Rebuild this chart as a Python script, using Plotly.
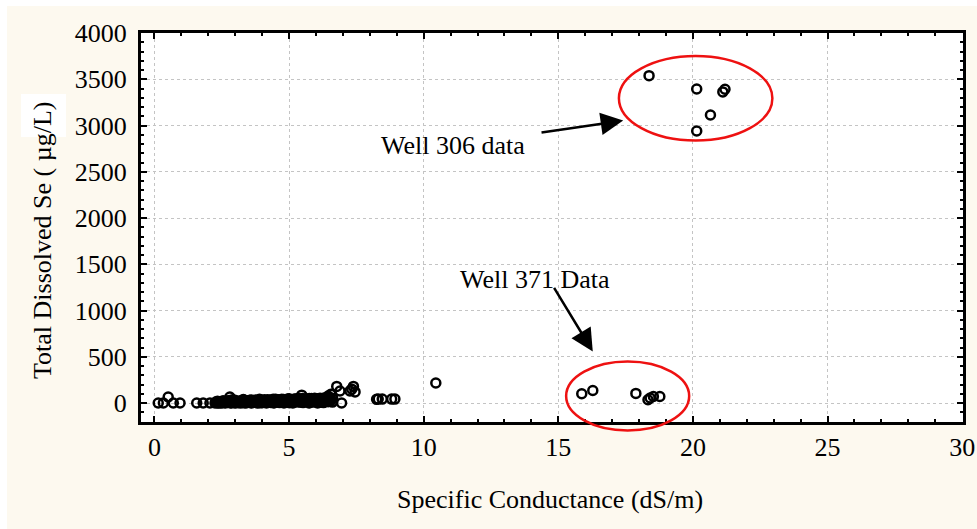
import plotly.graph_objects as go

# Specific conductance (dS/m) vs total dissolved selenium (ug/L)
sc_low = [0.14, 0.33, 0.51, 0.70, 0.95, 1.57, 1.81, 2.06]
se_low = [0, 0, 65, 0, 0, 0, 0, 0]

sc_band = [2.25, 2.31, 2.36, 2.42, 2.47, 2.52, 2.58, 2.63, 2.69, 2.74, 2.80, 2.85, 2.91, 2.96,
           3.02, 3.07, 3.12, 3.18, 3.23, 3.29, 3.34, 3.40, 3.45, 3.51, 3.56, 3.61, 3.67, 3.72,
           3.78, 3.83, 3.89, 3.94, 4.00, 4.05, 4.10, 4.16, 4.21, 4.27, 4.32, 4.38, 4.43, 4.49,
           4.54, 4.59, 4.65, 4.70, 4.76, 4.81, 4.87, 4.92, 4.98, 5.03, 5.08, 5.14, 5.19, 5.25,
           5.30, 5.36, 5.41, 5.47, 5.52, 5.57, 5.63, 5.68, 5.74, 5.79, 5.85, 5.90, 5.96, 6.01,
           6.06, 6.12, 6.17, 6.23, 6.28, 6.34, 6.39, 6.45, 6.50, 6.56, 6.61]
se_band = [0, 5, 0, 10, 0, 3, 8, 0, 12, 5, 65, 0, 10, 4,
           0, 15, 6, 0, 12, 20, 3, 0, 10, 18, 5, 0, 14, 22,
           8, 0, 16, 25, 4, 10, 20, 0, 12, 28, 6, 15, 0, 24,
           10, 30, 5, 18, 26, 0, 12, 32, 8, 20, 35, 0, 14, 28,
           38, 10, 22, 85, 5, 30, 40, 15, 0, 25, 35, 10, 42, 20,
           0, 30, 12, 38, 5, 25, 45, 15, 60, 30, 10]

sc_band2 = [2.90, 3.30, 3.60, 3.90, 4.20, 4.50, 4.80, 5.00, 5.20, 5.35, 5.60, 5.75, 5.95,
            6.10, 6.30, 6.45, 6.55, 6.62]
se_band2 = [35, 38, 32, 40, 36, 42, 38, 45, 40, 50, 44, 48, 52, 46, 55, 75, 95, 50]

sc_band3 = [2.34, 2.45, 2.55, 2.66, 2.77, 2.88, 2.99, 3.10, 3.21, 3.32, 3.43, 3.54, 3.65,
            3.76, 3.87, 3.98, 4.08, 4.19, 4.30, 4.41, 4.52, 4.62, 4.73, 4.84, 4.95, 5.06,
            5.17, 5.28, 5.39, 5.50, 5.61, 5.72, 5.83, 5.94, 6.04, 6.15, 6.26, 6.37, 6.48]
se_band3 = [20, 15, 25, 18, 28, 22, 30, 20, 26, 32, 24, 30, 20, 34, 26, 30, 36, 22, 34,
            40, 28, 36, 42, 30, 44, 34, 40, 46, 30, 48, 36, 44, 50, 32, 46, 52, 38, 50, 40]

sc_band4 = [2.28, 2.39, 2.50, 2.61, 2.71, 2.83, 2.94, 3.05, 3.15, 3.26, 3.37, 3.48, 3.59,
            3.70, 3.81, 3.92, 4.03, 4.13, 4.24, 4.35, 4.46, 4.57, 4.68, 4.79, 4.90, 5.01,
            5.11, 5.22, 5.33, 5.44, 5.55, 5.66, 5.77, 5.88, 5.99, 6.09, 6.20, 6.31, 6.42, 6.53]
se_band4 = [10, 2, 12, 6, 16, 4, 18, 8, 14, 4, 20, 10, 6, 16, 12, 2, 22, 8, 16, 10, 6,
            20, 12, 18, 24, 4, 16, 12, 22, 10, 18, 26, 6, 20, 14, 24, 8, 18, 28, 22]

sc_mid = [6.77, 6.89, 6.95, 7.26, 7.33, 7.39, 7.45, 8.25, 8.31, 8.46, 8.81, 8.93, 10.45]
se_mid = [180, 130, 0, 130, 150, 180, 120, 40, 43, 43, 43, 43, 216]

# Well 371
sc_371 = [15.87, 16.28, 17.88, 18.33, 18.41, 18.53, 18.77]
se_371 = [100, 136, 104, 36, 54, 71, 71]

# Well 306
sc_306 = [18.37, 20.14, 21.19, 21.11, 20.65, 20.14]
se_306 = [3539, 3395, 3392, 3363, 3114, 2941]

sc = sc_low + sc_band + sc_band2 + sc_band3 + sc_band4 + sc_mid + sc_371 + sc_306
se = se_low + se_band + se_band2 + se_band3 + se_band4 + se_mid + se_371 + se_306

x_range = [-0.5, 30.03]
y_range = [-205, 4000]

FONT = "Liberation Serif, Times New Roman, serif"


def px_x(v):
    return (v - x_range[0]) / (x_range[1] - x_range[0])


def px_y(v):
    return (v - y_range[0]) / (y_range[1] - y_range[0])


fig = go.Figure()
fig.add_trace(go.Scatter(
    x=sc, y=se, mode="markers",
    marker=dict(symbol="circle-open", size=9, color="black", line=dict(width=2.5, color="black")),
    showlegend=False, cliponaxis=False,
))

axis_common = dict(
    showline=True, linewidth=3, linecolor="black", mirror="ticks",
    ticks="inside", ticklen=6, tickwidth=2, tickcolor="black",
    showgrid=True, gridcolor="#c4c4c4", gridwidth=1, griddash="3px,3px",
    zeroline=False, automargin=False,
    tickfont=dict(family=FONT, size=26, color="black"),
)

fig.update_xaxes(range=x_range, tickvals=[0, 5, 10, 15, 20, 25, 30],
                 minor=dict(dtick=1, tick0=0, ticks="inside", ticklen=3, tickwidth=2,
                            tickcolor="black", showgrid=False),
                 ticklabelstandoff=0, **axis_common)
fig.update_yaxes(range=y_range, tickvals=[0, 500, 1000, 1500, 2000, 2500, 3000, 3500, 4000],
                 minor=dict(dtick=100, tick0=0, ticks="inside", ticklen=3, tickwidth=2,
                            tickcolor="black", showgrid=False),
                 ticklabelstandoff=6, **axis_common)

shapes = [
    # white strips along the top and left edges of the page
    dict(type="rect", xref="paper", yref="paper", x0=-0.1715, x1=1.02, y0=1.0694, y1=1.09,
         fillcolor="white", line=dict(width=0), layer="below"),
    dict(type="rect", xref="paper", yref="paper", x0=-0.1715, x1=-0.163, y0=-0.28, y1=1.09,
         fillcolor="white", line=dict(width=0), layer="below"),
    # white patch behind the unit in the y title
    dict(type="rect", xref="paper", yref="paper", x0=-0.146, x1=-0.0912, y0=0.7326, y1=0.843,
         fillcolor="white", line=dict(width=0), layer="below"),
    # ellipses around the two well groups
    dict(type="circle", xref="paper", yref="paper",
         x0=px_x(17.25), x1=px_x(22.95), y0=px_y(2837), y1=px_y(3752),
         line=dict(color="#ee1111", width=2.5), layer="above"),
    dict(type="circle", xref="paper", yref="paper",
         x0=px_x(15.29), x1=px_x(19.86), y0=px_y(-296), y1=px_y(449),
         line=dict(color="#ee1111", width=2.5), layer="above"),
]

annotations = [
    dict(text="Well 306 data", x=11.07, y=2785, xref="x", yref="y", showarrow=False,
         xanchor="center", yanchor="middle", font=dict(family=FONT, size=26, color="black")),
    dict(text="Well 371 Data", x=14.13, y=1332, xref="x", yref="y", showarrow=False,
         xanchor="center", yanchor="middle", font=dict(family=FONT, size=26, color="black")),
    dict(text="", x=17.41, y=3053, ax=14.32, ay=2923, xref="x", yref="y", axref="x", ayref="y",
         showarrow=True, arrowhead=2, arrowsize=1.8, arrowwidth=2.5, arrowcolor="black"),
    dict(text="", x=16.28, y=557, ax=14.81, ay=1260, xref="x", yref="y", axref="x", ayref="y",
         showarrow=True, arrowhead=2, arrowsize=1.8, arrowwidth=2.5, arrowcolor="black"),
    dict(text="Specific Conductance (dS/m)", x=0.497, y=-0.2005, xref="paper", yref="paper",
         showarrow=False, xanchor="center", yanchor="middle",
         font=dict(family=FONT, size=26, color="black")),
    dict(text="Total Dissolved Se ( µg/L)", x=-0.1192, y=0.4653, xref="paper", yref="paper",
         showarrow=False, xanchor="center", yanchor="middle", textangle=-90,
         font=dict(family=FONT, size=26, color="black")),
]

fig.update_layout(
    width=977, height=529, autosize=False,
    margin=dict(l=141, r=14, t=33, b=107),
    paper_bgcolor="#fdf9ef", plot_bgcolor="white",
    shapes=shapes, annotations=annotations,
    font=dict(family=FONT, size=26, color="black"),
)

fig.write_html("out.html")
